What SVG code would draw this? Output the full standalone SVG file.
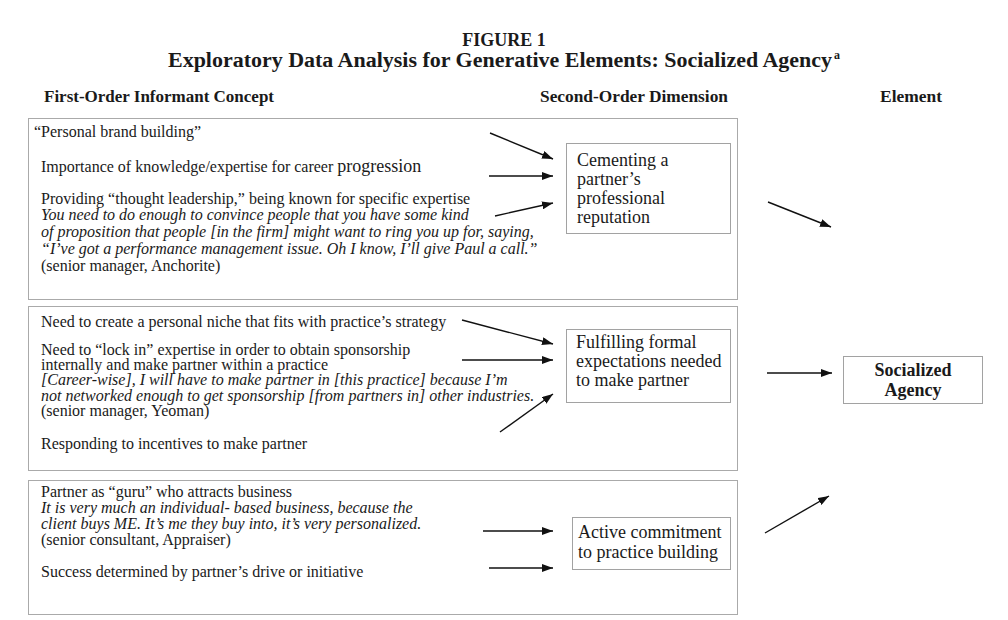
<svg xmlns="http://www.w3.org/2000/svg" width="1008" height="620" viewBox="0 0 1008 620">
<defs>
<marker id="ah" viewBox="0 0 11 8" refX="11" refY="4" markerWidth="11" markerHeight="8" markerUnits="userSpaceOnUse" orient="auto">
<path d="M0,0 L11,4 L0,8 z" fill="#111"/>
</marker>
<style>
text{font-family:"Liberation Serif","Times New Roman",serif;fill:#1a1a1a}
.t{font-size:16px}
.i{font-size:16px;font-style:italic}
.h{font-size:16px;font-weight:bold}
.ttl{font-size:18px;font-weight:bold}
.sub{font-size:20px;font-weight:bold}
.outer{fill:none;stroke:#aaa;stroke-width:1}
.inner{fill:none;stroke:#444;stroke-width:1;stroke-dasharray:1 1}
.arr{stroke:#111;stroke-width:1.4;fill:none;marker-end:url(#ah)}
.dim{font-size:18px}
.el{font-size:18px;font-weight:bold}
</style>
</defs>
<rect width="1008" height="620" fill="#fff"/>
<g id="title">
<text x="504" y="46" text-anchor="middle" class="ttl">FIGURE 1</text>
<text x="168" y="67" class="sub" textLength="664" lengthAdjust="spacingAndGlyphs">Exploratory Data Analysis for Generative Elements: Socialized Agency</text>
<text x="834" y="59" font-size="12" font-weight="bold">a</text>
</g>
<g id="headers">
<text x="44" y="102" class="h" textLength="230" lengthAdjust="spacingAndGlyphs">First-Order Informant Concept</text>
<text x="540" y="102" class="h" textLength="188" lengthAdjust="spacingAndGlyphs">Second-Order Dimension</text>
<text x="880" y="102" class="h" textLength="62" lengthAdjust="spacingAndGlyphs">Element</text>
</g>
<g id="group1">
<rect x="28.5" y="118.5" width="709" height="181" class="outer"/>
<text x="34" y="137" class="t">“Personal brand building”</text>
<text x="41" y="172" class="t">Importance of knowledge/expertise for career <tspan font-size="18">progression</tspan></text>
<text x="41" y="204" class="t">Providing “thought leadership,” being known for specific expertise</text>
<text x="41" y="220" class="i">You need to do enough to convince people that you have some kind</text>
<text x="41" y="237" class="i">of proposition that people [in the firm] might want to ring you up for, saying,</text>
<text x="41" y="254" class="i">“I’ve got a performance management issue. Oh I know, I’ll give Paul a call.”</text>
<text x="41" y="271" class="t">(senior manager, Anchorite)</text>
</g>
<g id="dim1">
<rect x="566.5" y="143.5" width="164" height="90" class="inner"/>
<text x="577" y="166" class="dim">Cementing a</text>
<text x="577" y="185" class="dim">partner’s</text>
<text x="577" y="204" class="dim">professional</text>
<text x="577" y="223" class="dim">reputation</text>
</g>
<g id="group2">
<rect x="28.5" y="306.5" width="709" height="164" class="outer"/>
<text x="41" y="327" class="t">Need to create a personal niche that fits with practice’s strategy</text>
<text x="41" y="355" class="t">Need to “lock in” expertise in order to obtain sponsorship</text>
<text x="41" y="370" class="t">internally and make partner within a practice</text>
<text x="41" y="385" class="i">[Career-wise], I will have to make partner in [this practice] because I’m</text>
<text x="41" y="401" class="i">not networked enough to get sponsorship [from partners in] other industries.</text>
<text x="41" y="416" class="t">(senior manager, Yeoman)</text>
<text x="41" y="449" class="t">Responding to incentives to make partner</text>
</g>
<g id="dim2">
<rect x="566.5" y="329.5" width="164" height="73" class="inner"/>
<text x="576" y="348" class="dim">Fulfilling formal</text>
<text x="576" y="367" class="dim">expectations needed</text>
<text x="576" y="386" class="dim">to make partner</text>
</g>
<g id="group3">
<rect x="28.5" y="480.5" width="709" height="134" class="outer"/>
<text x="41" y="497" class="t">Partner as “guru” who attracts business</text>
<text x="41" y="513" class="i">It is very much an individual- based business, because the</text>
<text x="41" y="529" class="i">client buys ME. It’s me they buy into, it’s very personalized.</text>
<text x="41" y="545" class="t">(senior consultant, Appraiser)</text>
<text x="41" y="577" class="t">Success determined by partner’s drive or initiative</text>
</g>
<g id="dim3">
<rect x="572.5" y="517.5" width="158" height="52" class="inner"/>
<text x="578" y="538" class="dim">Active commitment</text>
<text x="578" y="558" class="dim">to practice building</text>
</g>
<g id="element">
<rect x="843.5" y="356.5" width="139" height="47" class="inner"/>
<text x="913" y="376" text-anchor="middle" class="el">Socialized</text>
<text x="913" y="396" text-anchor="middle" class="el">Agency</text>
</g>
<g id="connectors">
<line x1="490" y1="133" x2="553" y2="159" class="arr"/>
<line x1="489" y1="176" x2="553" y2="176" class="arr"/>
<line x1="495" y1="216" x2="553" y2="203" class="arr"/>
<line x1="462" y1="320" x2="553" y2="344" class="arr"/>
<line x1="462" y1="360" x2="553" y2="360" class="arr"/>
<line x1="500" y1="432" x2="553" y2="394" class="arr"/>
<line x1="483" y1="531" x2="553" y2="531" class="arr"/>
<line x1="489" y1="568" x2="553" y2="568" class="arr"/>
<line x1="768" y1="202" x2="831" y2="227" class="arr"/>
<line x1="767" y1="373" x2="832" y2="373" class="arr"/>
<line x1="765" y1="533" x2="829" y2="496" class="arr"/>
</g>
</svg>
